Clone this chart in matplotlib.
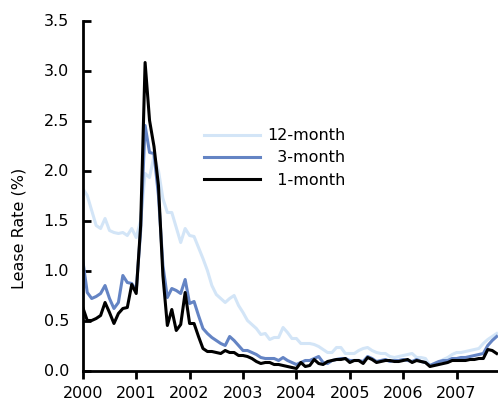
import numpy as np
import matplotlib
matplotlib.use("Agg")
import matplotlib.pyplot as plt

# monthly lease rates (%), Jan 2000 - Oct 2007
rate_12m = [1.82, 1.75, 1.60, 1.45, 1.42, 1.52, 1.40, 1.38, 1.37, 1.38, 1.35, 1.42,
            1.33, 1.50, 1.97, 1.93, 2.15, 2.00, 1.72, 1.58, 1.58, 1.43, 1.28, 1.42,
            1.35, 1.34, 1.23, 1.12, 1.00, 0.85, 0.76, 0.72, 0.68, 0.72, 0.75, 0.65,
            0.58, 0.50, 0.46, 0.42, 0.36, 0.37, 0.31, 0.33, 0.33, 0.43, 0.38, 0.32,
            0.32, 0.27, 0.27, 0.27, 0.26, 0.24, 0.21, 0.18, 0.18, 0.23, 0.23, 0.17,
            0.17, 0.17, 0.20, 0.22, 0.23, 0.20, 0.18, 0.17, 0.17, 0.14, 0.13, 0.14,
            0.15, 0.16, 0.17, 0.13, 0.13, 0.12, 0.05, 0.07, 0.08, 0.11, 0.13, 0.16,
            0.18, 0.18, 0.19, 0.20, 0.21, 0.22, 0.27, 0.31, 0.34, 0.37]

rate_3m = [1.10, 0.78, 0.72, 0.74, 0.77, 0.85, 0.72, 0.62, 0.68, 0.95, 0.88, 0.87,
           0.80, 1.40, 2.45, 2.18, 2.17, 1.75, 1.05, 0.73, 0.82, 0.80, 0.77, 0.91,
           0.67, 0.69, 0.55, 0.42, 0.37, 0.33, 0.30, 0.27, 0.25, 0.34, 0.30, 0.25,
           0.20, 0.20, 0.18, 0.16, 0.13, 0.12, 0.12, 0.12, 0.10, 0.13, 0.10, 0.08,
           0.06, 0.08, 0.10, 0.10, 0.12, 0.14, 0.08, 0.07, 0.10, 0.11, 0.12, 0.12,
           0.10, 0.10, 0.10, 0.09, 0.14, 0.12, 0.09, 0.10, 0.11, 0.09, 0.10, 0.10,
           0.11, 0.10, 0.09, 0.11, 0.09, 0.08, 0.05, 0.07, 0.09, 0.10, 0.10, 0.12,
           0.12, 0.13, 0.13, 0.14, 0.15, 0.16, 0.17, 0.25, 0.30, 0.34]

rate_1m = [0.63, 0.50, 0.50, 0.52, 0.55, 0.68, 0.58, 0.47, 0.57, 0.62, 0.63, 0.86,
           0.77, 1.45, 3.08, 2.50, 2.24, 1.85, 0.95, 0.45, 0.61, 0.40, 0.46, 0.78,
           0.47, 0.47, 0.34, 0.22, 0.19, 0.19, 0.18, 0.17, 0.20, 0.18, 0.18, 0.15,
           0.15, 0.14, 0.12, 0.09, 0.07, 0.08, 0.08, 0.06, 0.06, 0.05, 0.04, 0.03,
           0.02, 0.08, 0.04, 0.05, 0.11, 0.07, 0.06, 0.09, 0.10, 0.11, 0.11, 0.12,
           0.08, 0.10, 0.10, 0.07, 0.13, 0.11, 0.08, 0.09, 0.10, 0.10, 0.09, 0.09,
           0.10, 0.11, 0.08, 0.10, 0.09, 0.08, 0.04, 0.05, 0.06, 0.07, 0.08, 0.10,
           0.10, 0.10, 0.10, 0.11, 0.11, 0.12, 0.12, 0.21, 0.20, 0.17]

years = [2000, 2001, 2002, 2003, 2004, 2005, 2006, 2007]
yticks = [0.0, 0.5, 1.0, 1.5, 2.0, 2.5, 3.0, 3.5]

t = 2000 + np.arange(len(rate_1m)) / 12.0

fs = 11.5
fig = plt.figure(figsize=(4.98, 4.0), dpi=100)
ax = fig.add_axes([82.8 / 498, 29.5 / 400, 415.2 / 498, 350 / 400])

ax.plot(t, rate_12m, color="#d3e5f7", lw=2.2, label="12-month")
ax.plot(t, rate_3m, color="#6484c4", lw=2.2, label="  3-month")
ax.plot(t, rate_1m, color="black", lw=2.2, label="  1-month")

ax.set_xlim(2000, 2007.775)
ax.set_ylim(0, 3.5)
ax.set_xticks(years)
ax.set_xticklabels([str(y) for y in years])
ax.set_yticks(yticks)
ax.set_yticklabels(["%.1f" % v for v in yticks])

for s in ["top", "right"]:
    ax.spines[s].set_visible(False)
for s in ["left", "bottom"]:
    ax.spines[s].set_linewidth(2.0)

ax.tick_params(axis="y", direction="in", length=6, width=2, pad=10, labelsize=fs)
ax.tick_params(axis="x", direction="out", length=6, width=2, pad=5, labelsize=fs)

ax.set_ylabel("Lease Rate (%)", fontsize=fs)
ax.yaxis.set_label_coords(-0.135, 0.407)

leg = ax.legend(loc="center", bbox_to_anchor=(275 / 498, 1 - 158 / 400),
                bbox_transform=fig.transFigure, frameon=False, fontsize=fs,
                handlelength=3.5, handletextpad=0.45, labelspacing=0.45)

fig.savefig("out.png", dpi=100)
